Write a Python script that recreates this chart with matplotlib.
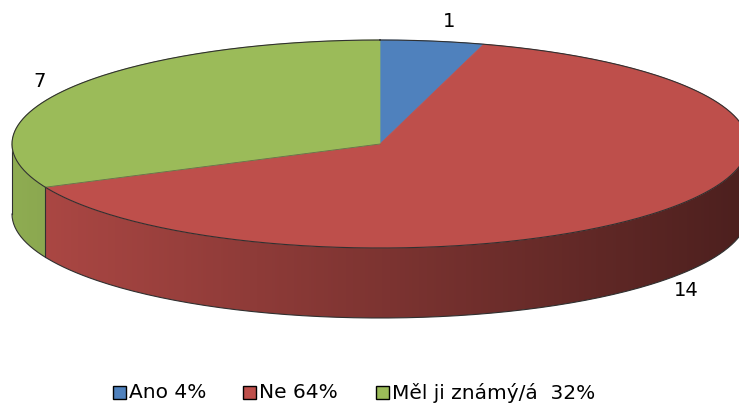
import numpy as np
import matplotlib
matplotlib.use("Agg")
import matplotlib.pyplot as plt
from matplotlib.patches import Polygon, Rectangle
from matplotlib.colors import to_rgb

# survey answers
categories = ["Ano", "Ne", "Měl ji známý/á"]
counts = [1, 14, 7]
legend_labels = ["Ano 4%", "Ne 64%", "Měl ji známý/á  32%"]
colors = ["#4f81bd", "#be4f4b", "#9bbb59"]

# pie geometry in pixel space (y grows downwards)
CX, CY = 380, 144
RX, RY = 368, 104
DEPTH = 70


def point(theta, drop=0.0):
    # theta in degrees, clockwise from 12 o'clock
    t = np.radians(theta)
    return CX + RX * np.sin(t), CY - RY * np.cos(t) + drop


def wall_gradient(color):
    # horizontal shading strip: lighter on the left, darker on the right
    xs = np.linspace(CX - RX, CX + RX, 300)
    u = (xs - CX) / RX
    f = 0.66 - 0.26 * u
    rgb = np.array(to_rgb(color))[None, :] * f[:, None]
    return np.clip(rgb[None, :, :], 0, 1)


fig = plt.figure(figsize=(7.39, 4.03), dpi=100)
ax = fig.add_axes([0, 0, 1, 1])
ax.set_xlim(0, 739)
ax.set_ylim(403, 0)
ax.axis("off")

total = float(sum(counts))
bounds = np.concatenate([[0], np.cumsum(counts) / total * 360.0])

# side walls (only the front half is visible)
for i in range(len(counts)):
    lo = max(bounds[i], 90.0)
    hi = min(bounds[i + 1], 270.0)
    if hi <= lo:
        continue
    ts = np.linspace(lo, hi, 200)
    top = [point(t) for t in ts]
    bot = [point(t, DEPTH) for t in ts[::-1]]
    wall = Polygon(top + bot, closed=True, facecolor="none", edgecolor="none")
    ax.add_patch(wall)
    img = ax.imshow(wall_gradient(colors[i]), aspect="auto", interpolation="nearest",
                    extent=(CX - RX, CX + RX, CY + RY + DEPTH + 2, CY - 2), zorder=1)
    img.set_clip_path(wall)
    if 90 < bounds[i] < 270:
        x0, y0 = point(bounds[i])
        ax.plot([x0, x0], [y0, y0 + DEPTH], color="#303030", lw=0.8, zorder=2)

# wall outline
ts = np.linspace(90, 270, 200)
bx, by = zip(*[point(t, DEPTH) for t in ts])
ax.plot(bx, by, color="#303030", lw=0.8, zorder=2)
for t in (90, 270):
    x0, y0 = point(t)
    ax.plot([x0, x0], [y0, y0 + DEPTH], color="#303030", lw=0.8, zorder=2)

# top face
for i in range(len(counts)):
    ts = np.linspace(bounds[i], bounds[i + 1], 120)
    pts = [(CX, CY)] + [point(t) for t in ts]
    ax.add_patch(Polygon(pts, closed=True, facecolor=colors[i], edgecolor=colors[i],
                         lw=0.5, zorder=3))

# green/red seam and the ellipse rim
x0, y0 = point(bounds[2])
ax.plot([CX, x0], [CY, y0], color="#404040", lw=0.6, alpha=0.6, zorder=4)
ts = np.linspace(0, 360, 400)
ex, ey = zip(*[point(t) for t in ts])
ax.plot(ex, ey, color="#303030", lw=0.8, zorder=4)

# value labels outside the slices
for i, c in enumerate(counts):
    mid = 0.5 * (bounds[i] + bounds[i + 1])
    t = np.radians(mid)
    lx = CX + RX * 1.10 * np.sin(t)
    ly = CY - RY * 1.12 * np.cos(t)
    if 90 < mid < 270:
        ly += DEPTH
    if c == min(counts):
        lx += 11
        ly -= 7
    ax.text(lx, ly, str(c), ha="center", va="center", fontsize=14, color="black", zorder=5)

# legend along the bottom
legend_x = [113, 243, 376]
for i, lab in enumerate(legend_labels):
    ax.add_patch(Rectangle((legend_x[i], 386), 13, 13, facecolor=colors[i],
                           edgecolor="black", lw=1.0, zorder=5))
    ax.text(legend_x[i] + 16, 393, lab, ha="left", va="center", fontsize=14.5,
            color="black", zorder=5)

fig.savefig("out.png", dpi=100)
